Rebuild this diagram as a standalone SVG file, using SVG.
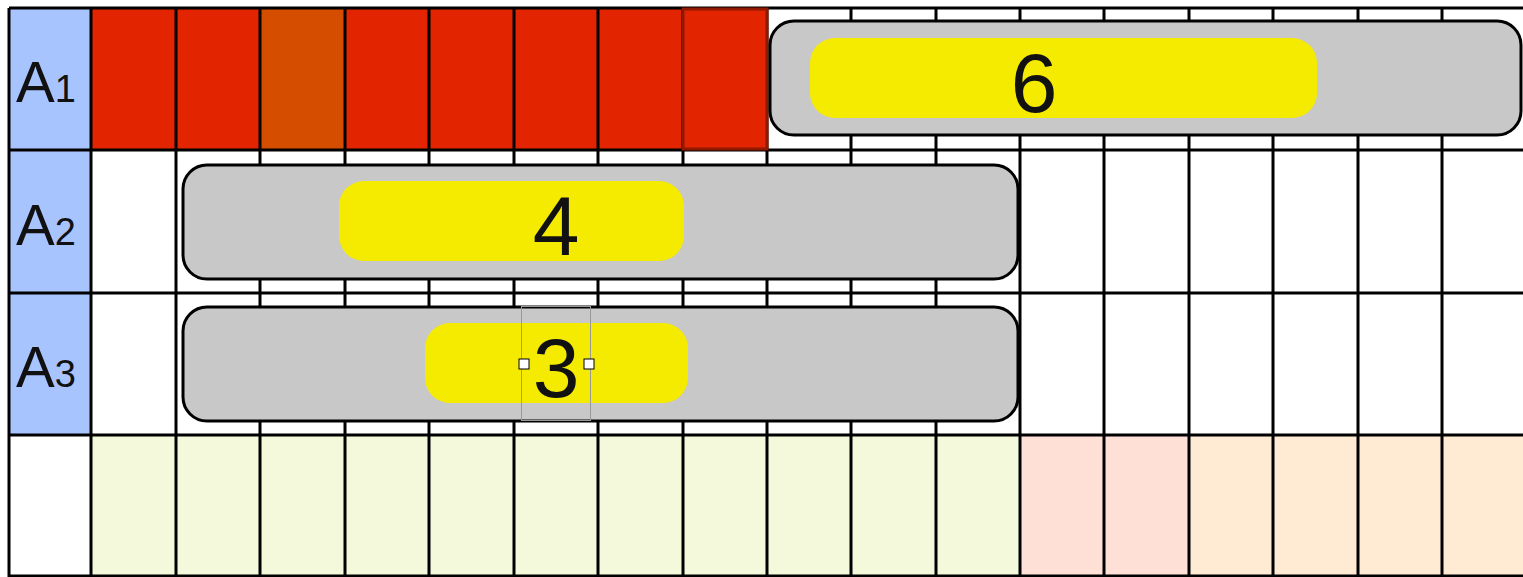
<svg xmlns="http://www.w3.org/2000/svg" width="1523" height="577" viewBox="0 0 1523 577">
<style>
.grid{stroke:#000;stroke-width:3;fill:none}
.lbl{fill:#A8C4FF}
.cap{fill:#C8C8C8;stroke:#000;stroke-width:3}
.pill{fill:#F5EB00}
.num{font-family:"Liberation Sans",Arial,sans-serif;font-size:84px;fill:#111;text-anchor:middle}
.a{font-family:"Liberation Sans",Arial,sans-serif;fill:#111}
</style>
<rect width="1523" height="577" fill="#fff"/>
<g id="cells">
<rect class="lbl" x="9" y="8" width="82" height="427"/>
<rect x="91" y="8" width="592" height="142" fill="#E22400"/>
<rect x="260" y="8" width="85" height="142" fill="#D54E00"/>
<rect x="91" y="435" width="929" height="142" fill="#F4F9DB"/>
<rect x="1020" y="435" width="169" height="142" fill="#FFE0D6"/>
<rect x="1189" y="435" width="334" height="142" fill="#FFEBD4"/>
</g>
<g id="grid" class="grid">
<path d="M9,8H1523M9,150H1523M9,293H1523M9,435H1523M9,576H1523"/>
<path d="M9,8V577M91,8V577M176,8V577M260,8V577M345,8V577M429,8V577M514,8V577M598,8V577M683,8V577M767,8V577M851,8V577M936,8V577M1020,8V577M1104,8V577M1189,8V577M1273,8V577M1358,8V577M1442,8V577"/>
</g>
<g id="cell-red-overlay">
<rect x="683" y="9" width="84" height="140" fill="#E22400" stroke="#8E1800" stroke-width="3"/>
</g>
<g id="label-A1"><text class="a" x="16" y="102" font-size="58">A<tspan font-size="38">1</tspan></text></g>
<g id="label-A2"><text class="a" x="16" y="245" font-size="58">A<tspan font-size="38">2</tspan></text></g>
<g id="label-A3"><text class="a" x="16" y="387" font-size="58">A<tspan font-size="38">3</tspan></text></g>
<g id="bar6">
<rect class="cap" x="770" y="21" width="751" height="114" rx="24"/>
<rect class="pill" x="810" y="38" width="507" height="80" rx="25"/>
<text class="num" x="1034" y="112">6</text>
</g>
<g id="bar4">
<rect class="cap" x="183" y="165" width="835" height="114" rx="24"/>
<rect class="pill" x="339" y="181" width="345" height="80" rx="25"/>
<text class="num" x="556" y="255">4</text>
</g>
<g id="bar3">
<rect class="cap" x="183" y="307" width="835" height="114" rx="24"/>
<rect class="pill" x="425" y="323" width="263" height="80" rx="25"/>
<text class="num" x="556" y="397">3</text>
<rect x="521.5" y="306.5" width="69" height="114" fill="none" stroke="#999" stroke-width="1"/>
<rect x="519" y="359" width="10" height="10" fill="#fff" stroke="#000" stroke-width="1"/>
<rect x="584" y="359" width="10" height="10" fill="#fff" stroke="#000" stroke-width="1"/>
</g>
</svg>
